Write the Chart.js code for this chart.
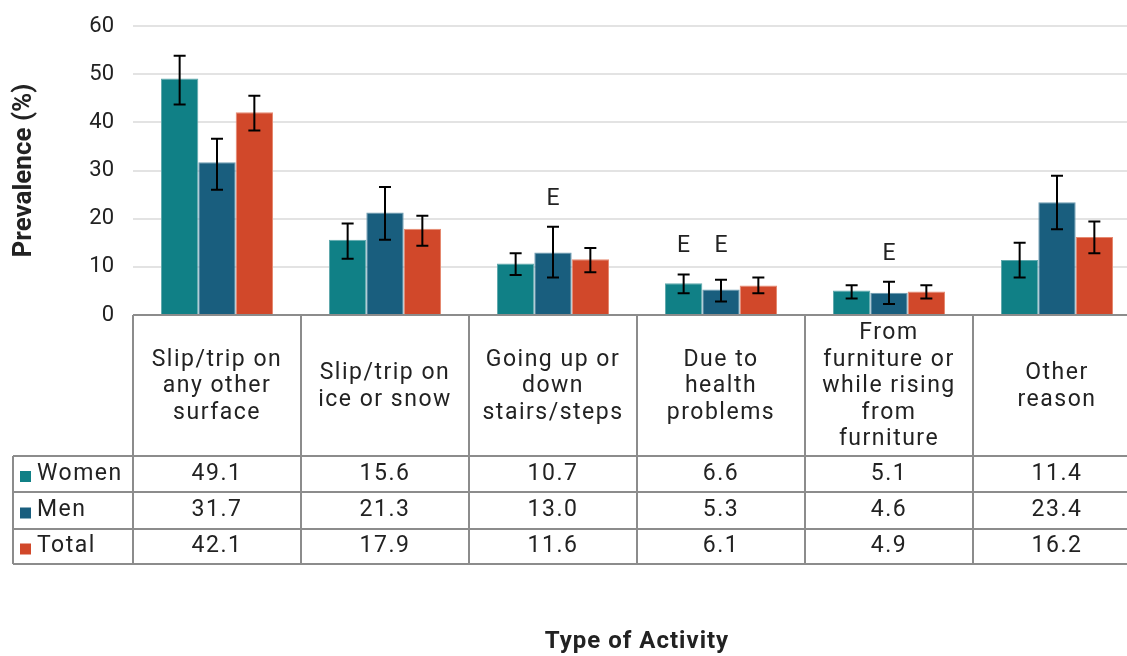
<!DOCTYPE html>
<html>
<head>
<meta charset="utf-8">
<script src="https://cdn.jsdelivr.net/npm/chart.js@4/dist/chart.umd.min.js"></script>
<style>
  html, body { margin: 0; padding: 0; background: #fff; overflow: hidden; }
  #wrap { width: 1141px; height: 656px; }
</style>
</head>
<body>
<div id="wrap"><canvas id="myChart"></canvas></div>
<script>
// categorias (rótulos com quebra de linha como na tabela)
const categorias = [
  ['Slip/trip on', 'any other', 'surface'],
  ['Slip/trip on', 'ice or snow'],
  ['Going up or', 'down', 'stairs/steps'],
  ['Due to', 'health', 'problems'],
  ['From', 'furniture or', 'while rising', 'from', 'furniture'],
  ['Other', 'reason']
];
const series = ['Women', 'Men', 'Total'];
const women = [49.1, 15.6, 10.7, 6.6, 5.1, 11.4];
const men = [31.7, 21.3, 13.0, 5.3, 4.6, 23.4];
const total = [42.1, 17.9, 11.6, 6.1, 4.9, 16.2];

// intervalos de confiança
const womenLow = [43.7, 11.7, 8.3, 4.5, 3.4, 7.8];
const womenHigh = [53.8, 19.0, 12.8, 8.4, 6.2, 15.0];
const menLow = [26.0, 15.6, 7.8, 2.8, 2.3, 17.8];
const menHigh = [36.6, 26.6, 18.3, 7.3, 6.9, 28.9];
const totalLow = [38.3, 14.4, 8.9, 4.5, 3.4, 12.8];
const totalHigh = [45.5, 20.6, 13.9, 7.8, 6.2, 19.4];

// marcas "E" (usar com cautela)
const womenE = [false, false, false, true, false, false];
const menE = [false, false, true, true, true, false];
const totalE = [false, false, false, false, false, false];

const yTicks = [0, 10, 20, 30, 40, 50, 60];

const cores = ['#108086', '#195E7E', '#D1482A'];
const bordas = ['#5FA9AD', '#6B9AB0', '#E68A72'];
const FONTE = 'Roboto, "DejaVu Sans", sans-serif';
const LINHA = '#8C8C8C';

const valores = [women, men, total];
const baixos = [womenLow, menLow, totalLow];
const altos = [womenHigh, menHigh, totalHigh];
const marcasE = [womenE, menE, totalE];

const fmt = v => v.toFixed(1);

// plugin que desenha barras de erro, "E" e a tabela de dados
const tabelaPlugin = {
  id: 'tabela',
  afterDatasetsDraw(chart) {
    const { ctx, scales: { x, y }, chartArea } = chart;
    ctx.save();

    // barras de erro
    ctx.strokeStyle = '#000';
    ctx.lineWidth = 2;
    chart.data.datasets.forEach((ds, di) => {
      const meta = chart.getDatasetMeta(di);
      meta.data.forEach((bar, i) => {
        const cx = bar.x;
        const yLo = y.getPixelForValue(baixos[di][i]);
        const yHi = y.getPixelForValue(altos[di][i]);
        ctx.beginPath();
        ctx.moveTo(cx, yLo); ctx.lineTo(cx, yHi);
        ctx.moveTo(cx - 6, yLo); ctx.lineTo(cx + 6, yLo);
        ctx.moveTo(cx - 6, yHi); ctx.lineTo(cx + 6, yHi);
        ctx.stroke();
      });
    });

    // "E" acima das barras, na altura do maior intervalo do grupo
    ctx.fillStyle = '#222';
    ctx.font = '23px ' + FONTE;
    ctx.textAlign = 'center';
    ctx.textBaseline = 'middle';
    categorias.forEach((c, i) => {
      const topo = Math.max(womenHigh[i], menHigh[i], totalHigh[i]);
      const yE = y.getPixelForValue(topo) - 28;
      marcasE.forEach((arr, di) => {
        if (arr[i]) {
          const bar = chart.getDatasetMeta(di).data[i];
          ctx.fillText('E', bar.x, yE);
        }
      });
    });

    // tabela
    const larg = x.getPixelForValue(1) - x.getPixelForValue(0);
    const x0 = chartArea.left;
    const xFim = x.getPixelForValue(categorias.length - 1) + larg / 2;
    const yTopo = chartArea.bottom;
    const yCab = yTopo + 141;
    const altLinha = [36, 37, 35];
    const yLinhas = [yCab];
    altLinha.forEach(h => yLinhas.push(yLinhas[yLinhas.length - 1] + h));
    const xEsq = 13;

    ctx.strokeStyle = LINHA;
    ctx.lineWidth = 2;
    ctx.beginPath();
    ctx.moveTo(x0, yTopo); ctx.lineTo(xFim, yTopo);
    yLinhas.forEach(yy => { ctx.moveTo(xEsq, yy); ctx.lineTo(xFim, yy); });
    for (let i = 0; i <= categorias.length; i++) {
      const xx = x0 + i * larg;
      ctx.moveTo(xx, yTopo); ctx.lineTo(xx, yLinhas[yLinhas.length - 1]);
    }
    ctx.moveTo(xEsq, yCab); ctx.lineTo(xEsq, yLinhas[yLinhas.length - 1]);
    ctx.stroke();

    // cabeçalho das categorias
    ctx.fillStyle = '#222';
    ctx.font = '23px ' + FONTE;
    ctx.letterSpacing = '1.5px';
    const meioCab = (yTopo + yCab) / 2 + 1;
    const lh = 26.5;
    categorias.forEach((linhas, i) => {
      const cx = x.getPixelForValue(i);
      const y1 = meioCab - (linhas.length - 1) * lh / 2;
      linhas.forEach((t, k) => ctx.fillText(t, cx, y1 + k * lh));
    });

    // linhas de valores
    series.forEach((nome, si) => {
      const yc = (yLinhas[si] + yLinhas[si + 1]) / 2;
      ctx.fillStyle = cores[si];
      ctx.fillRect(20, yc - 3, 11, 11);
      ctx.fillStyle = '#222';
      ctx.textAlign = 'left';
      ctx.fillText(nome, 37, yc);
      ctx.textAlign = 'center';
      valores[si].forEach((v, i) => ctx.fillText(fmt(v), x.getPixelForValue(i), yc));
    });

    // título do eixo x
    ctx.letterSpacing = '1px';
    ctx.font = 'bold 24px ' + FONTE;
    ctx.fillText('Type of Activity', 637, 642);
    ctx.restore();
  }
};

const ctx = document.getElementById('myChart').getContext('2d');

const data = {
  labels: categorias.map(c => c.join(' ')),
  datasets: series.map((nome, i) => ({
    label: nome,
    data: valores[i],
    backgroundColor: cores[i],
    borderColor: bordas[i],
    borderWidth: 1,
    categoryPercentage: 0.667,
    barPercentage: 1.0,
  })),
};

const config = {
  type: 'bar',
  data: data,
  options: {
    responsive: true,
    maintainAspectRatio: false,
    animation: false,
    layout: { padding: { top: 26, bottom: 341, left: 0, right: 0 } },
    plugins: { legend: { display: false }, tooltip: { enabled: false } },
    scales: {
      x: {
        display: false,
      },
      y: {
        min: 0,
        max: 60,
        afterFit: scale => {
          scale.width = 133;
          scale.paddingTop = 0;
          scale.paddingBottom = 0;
        },
        afterBuildTicks: scale => { scale.ticks = yTicks.map(v => ({ value: v })); },
        border: { display: false },
        grid: { color: '#E3E3E3', lineWidth: 2, drawTicks: false },
        ticks: { color: '#222', padding: 19, font: { family: FONTE, size: 22 } },
        title: {
          display: true,
          text: 'Prevalence (%)',
          color: '#222',
          padding: { top: 9, bottom: 0 },
          font: { family: FONTE, size: 26, weight: 'bold' },
        },
      },
    },
  },
  plugins: [tabelaPlugin],
};

new Chart(ctx, config);
</script>
</body>
</html>
